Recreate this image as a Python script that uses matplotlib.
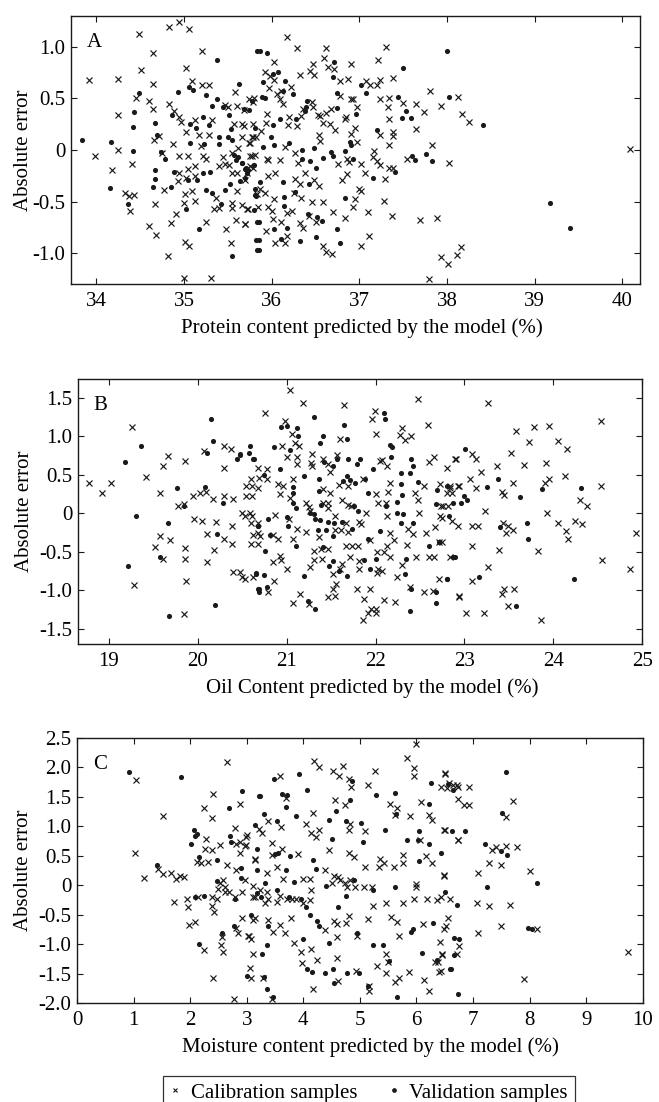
import matplotlib
matplotlib.use('Agg')
import matplotlib.pyplot as plt
from matplotlib.lines import Line2D
import numpy as np

plt.rcParams['font.family'] = ['Liberation Serif', 'DejaVu Serif']
plt.rcParams['font.size'] = 15

# ---- data (x = predicted content, y = absolute error) ----
# Panel A : protein
protein_calibration = [
    (34.48, 1.13), (34.83, 1.19), (34.94, 1.24), (35.06, 1.17), (33.92, 0.68), (34.25, 0.69), (34.65, 0.94),
    (34.51, 0.78), (35.02, 0.80), (35.20, 0.96), (35.09, 0.67), (34.45, 0.50), (34.60, 0.48), (34.64, 0.64),
    (34.64, 0.40), (34.83, 0.45), (34.25, 0.34), (34.25, 0.00), (33.98, -0.06), (34.18, -0.19), (34.89, 0.38),
    (34.94, 0.32), (34.96, 0.27), (34.66, 0.10), (34.71, 0.14), (34.75, -0.03), (34.87, 0.06), (34.94, -0.06),
    (34.41, -0.14), (34.33, -0.42), (34.37, -0.45), (34.43, -0.44), (34.38, -0.59), (34.67, -0.52), (34.77, -0.39),
    (34.85, -0.71), (34.91, -0.62), (34.60, -0.74), (34.68, -0.82), (34.82, -1.03), (35.01, -0.89), (35.06, -0.93),
    (35.01, -0.43), (35.09, -0.40), (35.02, -0.27), (35.04, -0.18), (35.13, -0.16), (35.13, -0.25), (35.17, 0.15),
    (35.05, -0.06), (35.25, -0.09), (35.34, -0.57), (35.25, -0.70), (35.12, -0.49), (35.00, -1.24), (35.31, -1.24),
    (34.94, -0.22), (34.93, -0.30), (35.00, -0.51), (35.44, -0.07), (35.51, -0.15), (35.36, -0.47), (35.40, -0.56),
    (35.55, -0.56), (35.59, -0.68), (35.69, -0.72), (35.72, -0.57), (35.66, -0.53), (35.60, -0.40), (35.69, -0.29),
    (35.72, -0.22), (35.79, -0.17), (35.55, -0.22), (35.60, -0.22), (35.47, -0.14), (35.40, -0.16), (35.55, -0.03),
    (35.62, 0.02), (35.66, 0.13), (35.77, 0.13), (35.74, 0.07), (35.77, -0.06), (35.81, -0.05), (35.57, 0.25),
    (35.66, 0.25), (35.47, 0.44), (35.50, 0.42), (35.60, 0.43), (35.58, 0.56), (35.74, 0.49), (35.32, 0.29),
    (35.28, 0.15), (35.12, 0.29), (35.02, 0.17), (35.19, 0.04), (35.22, -0.06), (35.20, 0.63), (35.28, 0.63),
    (35.48, -0.77), (35.53, -0.90), (35.55, -0.51),
    (36.17, 1.10), (36.29, 0.99), (36.62, 0.99), (37.30, 1.00), (37.21, 0.87), (36.90, 0.83), (36.60, 0.89),
    (36.64, 0.81), (36.71, 0.79), (36.47, 0.83), (36.44, 0.77), (36.48, 0.73), (36.32, 0.73), (36.03, 0.85),
    (35.92, 0.76), (35.98, 0.72), (36.02, 0.68), (36.22, 0.61), (35.97, 0.60), (36.06, 0.54), (36.09, 0.49),
    (36.13, 0.45), (36.11, 0.57), (36.78, 0.67), (36.87, 0.69), (37.07, 0.67), (37.12, 0.63), (37.23, 0.68),
    (37.38, 0.70), (37.20, 0.63), (37.81, 0.57), (38.12, 0.51), (37.93, 0.43), (37.74, 0.37), (37.65, 0.45),
    (37.50, 0.46), (37.34, 0.50), (37.24, 0.49), (37.32, 0.42), (37.34, 0.30), (37.65, 0.20), (37.38, 0.17),
    (37.38, 0.14), (37.24, 0.15), (37.34, 0.05), (37.83, 0.05), (38.02, -0.13), (37.54, -0.09), (37.24, -0.15),
    (37.20, -0.11), (37.16, -0.07), (37.17, -0.01), (37.34, -0.17), (37.38, -0.17), (37.29, -0.28), (37.02, -0.40),
    (37.00, -0.38), (37.06, -0.22), (37.02, -0.14), (36.86, -0.23), (36.80, -0.29), (36.76, -0.14), (36.88, -0.12),
    (36.86, -0.09), (36.93, 0.49), (36.97, 0.42), (36.90, 0.49), (36.78, 0.52), (36.67, 0.40), (36.62, 0.36),
    (36.55, 0.33), (36.59, 0.26), (36.66, 0.25), (36.84, 0.30), (36.85, 0.32), (36.72, 0.19), (36.90, 0.16),
    (36.95, 0.21), (36.97, 0.08), (36.54, 0.15), (36.55, 0.09), (36.47, 0.42), (36.36, 0.40), (36.33, 0.33),
    (36.29, 0.23), (36.18, 0.24), (36.15, 0.03), (36.26, -0.03), (36.30, -0.13), (36.38, -0.22), (36.48, -0.29),
    (36.54, -0.35), (36.32, -0.33), (36.27, -0.28), (36.25, -0.42), (36.33, -0.47), (36.46, -0.50), (36.59, -0.50),
    (36.23, -0.59), (36.17, -0.61), (36.11, -0.70), (36.01, -0.67), (36.00, -0.59), (36.02, -0.48), (35.96, -0.55),
    (35.92, -0.42), (35.87, -0.38), (35.83, -0.43), (35.84, -0.55), (35.73, -0.57), (35.69, -0.72), (35.93, -0.79),
    (36.04, -0.90), (36.15, -0.90), (36.17, -0.83), (36.32, -0.71), (36.36, -0.76), (36.51, -0.70), (36.42, -0.64),
    (36.70, -0.60), (36.83, -0.66), (36.93, -0.55), (36.95, -0.48), (37.10, -0.60), (37.11, -0.83), (37.02, -0.93),
    (36.58, -0.93), (36.62, -0.99), (36.69, -1.01), (37.28, -0.49), (37.37, -0.64), (37.69, -0.68), (37.89, -0.66),
    (37.93, -1.04), (38.01, -1.11), (37.79, -1.25), (35.79, 0.47), (35.80, 0.50), (35.68, 0.39), (35.68, 0.23),
    (35.79, 0.25), (35.79, 0.13), (35.82, 0.13), (35.75, 0.07), (35.75, -0.06), (35.75, -0.16), (35.96, -0.10),
    (35.94, -0.09), (35.96, -0.25), (36.04, -0.22), (36.09, -0.10), (35.95, 0.35), (35.93, 0.26), (35.88, 0.18),
    (36.20, 0.32), (36.46, 0.47), (36.53, 0.34),
    (38.17, 0.35), (38.25, 0.27), (40.09, 0.01), (38.16, -0.94), (38.11, -1.02),
]
protein_validation = [
    (33.83, 0.10), (34.17, 0.08), (34.15, -0.37), (34.36, -0.52), (34.42, 0.22), (34.43, 0.37), (34.48, 0.55),
    (34.42, -0.01), (34.67, 0.26), (34.69, 0.15), (34.67, -0.19), (34.67, -0.28), (34.65, -0.36), (34.74, -0.02),
    (34.78, -0.09), (34.85, -0.36), (34.89, -0.21), (34.86, 0.34), (34.93, 0.56), (35.06, 0.61), (35.10, 0.58),
    (35.07, 0.25), (35.07, 0.07), (35.14, 0.21), (35.22, 0.32), (35.23, 0.06), (35.28, 0.24), (35.05, -0.29),
    (35.15, -0.29), (35.02, -0.57), (35.17, -0.77), (35.25, -0.39), (35.37, 0.87), (35.37, 0.49), (35.25, 0.53),
    (35.32, 0.43), (35.44, 0.42), (35.40, 0.06), (35.40, 0.13), (35.51, 0.34), (35.50, 0.13), (35.53, 0.20),
    (35.55, 0.10), (35.57, -0.05), (35.59, -0.10), (35.62, -0.07), (35.66, -0.13), (35.70, -0.18), (35.80, -0.15),
    (35.63, 0.64), (35.68, 0.40), (35.74, 0.39), (35.77, 0.48), (35.81, 0.21), (35.52, -0.33), (35.55, -1.03),
    (35.80, -0.58), (35.81, -0.44), (35.83, -0.70), (35.82, -0.87), (35.83, -0.97), (35.47, -0.39), (35.42, -0.52),
    (35.32, -0.42), (35.29, -0.21), (35.22, -0.22), (35.83, 0.96), (35.73, -0.19), (35.72, -0.22), (35.69, -0.27),
    (35.64, -0.30),
    (35.87, 0.96), (35.94, 0.94), (36.71, 0.85), (36.70, 0.71), (36.07, 0.76), (36.01, 0.74), (35.90, 0.66),
    (36.15, 0.67), (36.24, 0.54), (36.13, 0.57), (35.89, 0.51), (35.92, 0.50), (36.40, 0.48), (36.39, 0.42),
    (36.38, 0.38), (36.28, 0.30), (36.09, 0.30), (36.01, 0.24), (35.99, 0.13), (36.03, 0.05), (35.90, 0.03),
    (36.74, 0.55), (36.74, 0.41), (36.96, 0.35), (37.02, 0.63), (37.08, 0.55), (37.50, 0.80), (37.44, 0.51),
    (37.53, 0.38), (37.48, 0.31), (37.59, 0.31), (37.20, 0.19), (37.60, -0.06), (37.63, -0.10), (37.76, -0.04),
    (37.83, -0.11), (37.41, -0.21), (37.15, -0.27), (36.93, -0.09), (36.89, 0.08), (36.90, 0.05), (36.83, -0.01),
    (36.67, -0.02), (36.70, -0.06), (36.58, -0.08), (36.48, 0.02), (36.44, -0.11), (36.50, -0.17), (36.43, -0.33),
    (36.34, 0.00), (36.34, -0.09), (36.20, 0.07), (36.13, -0.31), (35.81, -0.38), (35.82, -0.45), (36.26, -0.41),
    (36.14, -0.46), (36.14, -0.54), (36.41, -0.62), (36.52, -0.65), (36.57, -0.69), (35.86, -0.70), (36.03, -0.77),
    (36.17, -0.76), (36.10, -0.86), (35.85, -0.87), (35.86, -0.97), (36.32, -0.88), (36.50, -0.84), (36.74, -0.77),
    (36.78, -0.90), (36.84, -0.47), (35.71, -0.17), (35.66, -0.13), (35.87, -0.31), (38.00, 0.96), (38.02, 0.51),
    (38.41, 0.24), (39.17, -0.51), (39.40, -0.76),
]

# Panel B : oil
oil_calibration = [
    (18.78, 0.40), (18.92, 0.27), (19.02, 0.39), (19.26, 1.12), (19.28, -0.93), (19.42, 0.47), (19.57, 0.27),
    (19.61, 0.62), (19.67, 0.74), (19.57, -0.29), (19.52, -0.44), (19.69, -0.35), (19.61, -0.60), (19.86, 0.68),
    (19.78, 0.09), (19.85, 0.12), (19.86, -0.45), (19.86, -0.59), (19.87, -0.88), (19.85, -1.31), (19.95, 0.23),
    (19.96, -0.07), (20.02, 0.26), (20.05, -0.10), (20.07, 0.81), (20.09, 0.28), (20.10, -0.27), (20.10, -0.63),
    (20.17, 0.18), (20.20, -0.11), (20.18, -0.48), (20.30, 0.87), (20.37, 0.83), (20.29, 0.59), (20.30, 0.23),
    (20.38, -0.17), (20.30, -0.33), (20.38, -0.40), (20.40, 0.18), (20.40, -0.77), (20.48, -0.77), (20.50, -0.83),
    (20.53, -0.86), (20.50, 0.01), (20.53, -0.03), (20.54, 0.22), (20.54, 0.35), (20.60, 0.44), (20.60, -0.13),
    (20.60, -0.40), (20.62, -0.28), (20.68, 0.33), (20.68, 0.59),
    (21.04, 1.60), (21.18, 1.43), (20.76, 1.30), (21.64, 1.41), (22.48, 1.48), (22.59, 1.15), (21.99, 1.33),
    (21.96, 1.23), (20.98, 1.20), (21.06, 1.03), (21.09, 0.92), (21.14, 0.88), (20.95, 0.87), (21.00, 0.73),
    (21.12, 0.73), (21.12, 0.64), (21.29, 0.77), (21.27, 0.66), (21.29, 0.61), (21.41, 0.70), (21.49, 0.54),
    (21.57, 0.76), (21.60, 0.96), (21.47, 0.64), (21.07, 0.44), (20.96, 0.35), (20.90, 0.38), (20.92, 0.25),
    (21.04, 0.20), (20.78, 0.57), (20.78, 0.44), (20.69, 0.46), (20.61, 0.35), (20.61, 0.23), (20.59, 0.01),
    (20.61, -0.04), (20.68, -0.13), (20.68, -0.26), (20.70, -0.30), (20.68, -0.40), (20.87, -0.02), (20.85, -0.28),
    (20.90, -0.33), (20.85, -0.63), (20.92, -0.55), (20.94, -0.61), (21.00, -0.73), (20.86, -0.88), (20.79, -1.02),
    (20.62, -0.83), (21.07, -1.17), (21.15, -1.05), (21.25, -1.18), (21.46, -1.09), (21.52, -0.99), (21.55, -0.92),
    (21.52, -0.79), (21.62, -0.66), (21.60, -0.73), (21.31, -0.61), (21.26, -0.70), (21.40, -0.59), (21.39, -0.47),
    (21.47, -0.46), (21.31, -0.49), (21.36, -0.31), (21.22, -0.25), (21.12, -0.21), (21.07, -0.33), (21.03, -0.08),
    (21.22, 0.13), (21.25, 0.08), (21.26, 0.03), (21.41, 0.14), (21.47, 0.14), (21.46, 0.07), (21.41, 0.31),
    (21.49, 0.27), (21.59, 0.37), (21.62, 0.17), (21.69, 0.11), (21.72, 0.09), (21.69, 0.35), (21.67, -0.12),
    (21.54, -0.03), (21.54, -0.22), (21.61, -0.22), (21.69, -0.24), (21.67, -0.43), (21.74, -0.43), (21.80, -0.43),
    (21.81, -0.11), (21.84, -0.14), (21.89, 0.00), (21.81, -0.62), (21.71, -0.57), (21.81, -0.72), (21.94, -0.35),
    (22.01, 0.25), (22.03, 0.14), (22.05, 0.68), (22.13, 0.61), (22.16, 0.40), (22.14, 0.28), (22.12, 0.14),
    (22.13, -0.04), (22.16, -0.26), (22.21, -0.35), (22.13, -0.43), (22.16, -0.57), (22.09, -0.51), (22.02, -0.50),
    (22.03, -0.72), (22.07, -0.75), (22.02, -0.78), (22.24, -0.83), (22.30, -0.67), (22.35, -0.41), (22.37, -0.20),
    (22.42, -0.27), (22.49, 0.00), (22.44, 0.26), (22.48, 0.17), (22.54, 0.36), (22.27, 1.02), (22.30, 1.11),
    (22.33, 0.95), (22.40, 1.00), (22.07, 0.69), (22.00, 1.03), (21.86, 0.44), (22.45, -0.57), (22.60, -0.57),
    (22.66, -0.57), (22.57, -0.26), (22.71, -0.38), (22.67, -0.18), (22.72, -0.04), (22.74, 0.09), (22.82, 0.09),
    (22.80, 0.26), (22.72, 0.38), (22.60, 0.67), (22.66, 0.73), (22.80, 0.59), (22.89, 0.70), (22.84, 0.33),
    (22.94, 0.35), (22.94, -1.09), (22.71, -0.86), (22.65, -1.01), (22.55, -1.03), (22.39, -0.96), (22.09, -1.13),
    (22.22, -1.15), (21.94, -0.98), (21.87, -1.11), (21.79, -0.99), (21.86, -1.39), (21.92, -1.30), (21.95, -1.25),
    (22.00, -1.25), (22.01, -1.30), (21.54, -1.08),
    (23.26, 1.44), (23.58, 1.07), (23.78, 1.12), (23.95, 1.13), (23.73, 0.93), (24.05, 0.94), (24.15, 0.84),
    (23.52, 0.78), (23.08, 0.77), (23.13, 0.70), (22.90, 0.70), (23.19, 0.54), (23.37, 0.61), (23.67, 0.63),
    (23.92, 0.66), (23.95, 0.45), (24.13, 0.48), (24.54, 1.20), (24.53, 0.35), (23.91, 0.39), (23.55, 0.40),
    (23.42, 0.28), (23.45, 0.24), (23.06, 0.44), (23.13, 0.33), (22.93, 0.35), (22.84, 0.35), (22.86, 0.26),
    (22.76, 0.10), (22.75, -0.06), (22.86, -0.10), (22.93, -0.16), (23.09, -0.17), (23.15, -0.17), (23.23, 0.03),
    (23.43, -0.13), (23.47, -0.26), (23.49, -0.17), (23.55, -0.22), (23.39, -0.48), (23.08, -0.43), (22.75, -0.38),
    (22.84, -0.57), (23.26, -0.70), (23.09, -0.88), (22.94, -1.08), (23.02, -1.30), (23.22, -1.30), (23.42, -1.05),
    (23.45, -0.98), (23.56, -0.98), (23.49, -1.20), (23.83, -0.49), (23.86, -1.39), (24.05, -0.12), (24.14, -0.23),
    (24.16, -0.34), (24.24, -0.10), (24.32, -0.14), (23.93, 0.01), (24.30, 0.17), (24.38, 0.10), (24.55, -0.61),
    (24.93, -0.26), (24.86, -0.72),
]
oil_validation = [
    (19.18, 0.67), (19.36, 0.88), (19.31, -0.04), (19.22, -0.68), (19.68, -1.33), (19.77, 0.33), (19.85, 0.10),
    (19.67, -0.12), (19.58, -0.57), (20.08, 0.34), (20.15, 1.23), (20.17, 0.94), (20.10, 0.78), (20.28, 0.13),
    (20.22, -0.27), (20.19, -1.19), (20.44, 0.70), (20.47, 0.76), (20.58, 0.79), (20.59, 0.88), (20.62, 0.70),
    (20.65, -0.78), (20.68, -0.17), (20.68, -0.98), (20.69, -1.02),
    (20.63, 0.70), (20.48, 0.77), (20.86, 0.86), (20.94, 1.12), (21.00, 1.13), (21.12, 1.11), (21.13, 1.01),
    (21.04, 0.82), (21.31, 1.25), (21.41, 1.00), (21.37, 0.91), (21.64, 1.15), (21.68, 0.97), (22.09, 1.31),
    (22.11, 1.23), (22.16, 0.89), (22.19, 0.86), (22.17, 0.73), (22.29, 0.53), (22.29, 0.38), (22.30, 0.24),
    (22.39, 0.52), (22.42, 0.61), (22.40, 0.71), (22.48, 0.41), (22.69, 0.30), (22.68, 0.12), (22.87, 0.14),
    (22.83, -0.03), (22.40, -0.99), (22.33, -0.79), (22.34, -0.60), (22.39, -1.27), (22.68, -1.17), (22.68, -1.03),
    (22.60, -0.43), (22.71, -0.37), (22.80, -0.86), (22.87, -0.57), (22.29, -0.13), (22.31, -0.01), (22.42, -0.12),
    (22.24, 0.01), (22.24, 0.15), (22.12, 0.09), (22.05, -0.23), (22.01, -0.60), (21.94, -0.72), (21.87, -0.61),
    (21.91, -0.34), (21.92, 0.26), (21.88, 0.44), (21.97, 0.57), (21.82, 0.70), (21.79, 0.64), (21.77, 0.39),
    (21.71, 0.43), (21.68, 0.48), (21.63, 0.42), (21.69, 0.70), (21.57, 0.70), (21.52, 0.61), (21.42, 0.67),
    (21.36, 0.44), (21.19, 0.49), (21.07, 0.34), (21.07, 0.26), (21.07, 0.14), (20.92, 0.57), (20.75, 0.50),
    (20.79, -0.07), (20.68, -0.16), (20.81, -0.28), (20.76, -0.49), (20.75, -0.80), (20.69, -0.98), (20.78, -0.96),
    (20.66, -0.79), (21.00, -0.05), (21.02, -0.17), (21.10, -0.42), (21.10, 0.07), (21.26, 0.00), (21.31, -0.01),
    (21.32, -0.08), (21.35, -0.22), (21.37, -0.09), (21.39, 0.11), (21.46, -0.11), (21.44, -0.22), (21.41, -0.44),
    (21.52, -0.30), (21.53, -0.12), (21.62, -0.11), (21.73, -0.21), (21.76, 0.10), (21.80, 0.03), (21.48, -0.69),
    (21.59, -0.75), (21.68, -0.82), (21.52, -0.62), (21.19, -0.81), (21.24, -1.14), (21.32, -1.24), (21.36, 0.29),
    (23.01, 0.83), (22.80, 0.35), (22.96, 0.14), (22.99, 0.22), (23.03, 0.17), (23.25, 0.34), (23.38, 0.44),
    (23.63, 0.21), (23.87, 0.31), (24.31, 0.33), (23.40, -0.18), (23.70, -0.13), (23.72, -0.34), (22.89, -0.57),
    (22.80, -0.86), (23.16, -0.83), (23.58, -1.21), (24.23, -0.85),
]

# Panel C : moisture
moisture_calibration = [
    (1.05, 1.79), (1.03, 0.55), (1.52, 1.17), (1.18, 0.12), (1.52, 0.19), (1.43, 0.28), (1.66, 0.21),
    (1.75, 0.11), (1.82, 0.15), (1.90, 0.14), (1.72, -0.28), (1.95, -0.23), (1.97, -0.37), (1.98, -0.68),
    (2.08, -0.62), (2.14, -0.20), (2.13, 0.39), (2.19, 0.37), (2.24, 1.31), (2.28, 0.78), (2.27, 0.62),
    (2.31, 0.39), (2.39, 0.59), (2.41, 1.55), (2.39, 1.14), (2.52, 0.68), (2.25, -1.10), (2.41, -1.58),
    (2.39, -0.20), (2.38, -0.35), (2.42, -0.45), (2.48, -0.23), (2.50, -0.06), (2.53, 0.03), (2.58, 0.08),
    (2.61, -0.11), (2.62, -0.04), (2.66, 0.34), (2.68, -0.12), (2.56, -0.88), (2.55, -1.01), (2.58, -1.13),
    (2.66, 2.08), (2.79, 0.96), (2.81, 0.70), (2.88, 1.38), (2.89, 0.73), (2.89, 0.54), (2.81, 0.26),
    (2.91, -0.11), (3.00, 0.85), (2.99, 0.68), (2.79, -0.20), (2.78, -1.93), (2.81, -0.72), (2.84, -0.81),
    (2.91, -0.56), (3.03, -0.87), (3.07, -0.92), (3.11, -1.17), (3.05, -1.41), (3.07, -1.58), (3.14, 0.43),
    (3.22, 0.95), (3.12, -0.02), (3.15, -0.20), (2.97, 0.08),
    (4.19, 2.10), (4.27, 2.00), (4.53, 1.93), (4.64, 1.85), (4.70, 2.02), (4.80, 1.80), (4.85, 1.67),
    (3.59, 1.85), (3.70, 1.47), (4.17, 1.23), (4.04, 1.03), (4.13, 0.88), (4.27, 0.93), (4.23, 0.81),
    (3.60, 0.99), (3.37, 1.08), (3.27, 0.88), (3.45, 0.72), (2.99, 0.82), (2.97, 0.66), (3.15, 0.45),
    (3.45, 0.51), (3.63, 0.62), (3.53, 0.31), (3.35, 0.21), (3.64, 0.10), (3.90, 0.52), (4.46, 0.59),
    (4.80, 0.54), (4.89, 0.48), (4.56, 1.45), (4.74, 1.35), (4.82, 1.04), (4.80, 0.93), (5.09, 0.92),
    (5.14, 1.70), (5.27, 1.93), (5.54, 1.37), (5.63, 1.19), (5.65, 1.31), (5.88, 1.17), (5.83, 2.15),
    (5.96, 1.98), (5.96, 1.85), (6.00, 2.39), (6.08, 1.41), (6.22, 1.19), (6.27, 1.11), (6.07, 0.76),
    (6.49, 0.93), (6.54, 1.65), (6.44, 1.67), (6.57, 1.73), (6.72, 1.69), (6.51, 1.89), (6.73, 0.76),
    (5.77, 0.37), (6.17, 0.49), (6.27, 0.38), (6.48, 0.17), (6.00, 0.02), (6.00, -0.03), (5.76, 0.51),
    (5.42, 0.37), (5.33, 0.30), (5.60, 0.30), (5.09, 0.30), (5.35, 0.45), (5.21, -0.04), (5.08, -0.04),
    (4.92, -0.03), (4.83, 0.08), (4.78, -0.04), (4.73, 0.03), (4.65, 0.08), (4.62, 0.14), (4.55, 0.16),
    (4.50, 0.03), (4.39, 0.25), (4.11, 0.10), (4.00, 0.11), (4.13, -0.08), (4.12, -0.25), (3.99, -0.31),
    (3.88, -0.23), (3.80, -0.24), (3.72, -0.24), (3.59, -0.19), (3.53, -0.28), (3.37, -0.24), (3.32, -0.31),
    (3.35, -0.11), (3.24, -0.08), (3.12, -0.20), (3.15, -0.56), (3.11, -0.60), (3.37, -0.59), (3.47, -0.79),
    (3.58, -0.68), (3.68, -0.82), (3.78, -0.56), (3.83, -0.99), (3.96, -1.14), (3.97, -1.32), (4.13, -1.08),
    (4.24, -1.27), (4.39, -0.76), (4.55, -0.61), (4.60, -0.66), (4.76, -0.64), (4.80, -0.52), (4.59, -0.88),
    (4.95, -0.86), (4.60, -1.24), (4.62, -1.63), (4.94, -1.46), (4.18, -1.77), (3.44, -1.94), (3.28, -1.58),
    (5.15, -0.58), (5.24, -0.35), (5.46, -0.30), (5.55, -0.54), (5.65, -0.62), (5.70, -0.86), (5.77, -0.30),
    (5.95, -0.23), (6.12, -0.66), (6.19, -0.24), (6.36, -0.26), (6.42, -0.97), (6.48, -0.75), (6.39, -1.30),
    (6.45, -1.17), (6.32, -1.31), (6.40, -1.48), (6.13, -1.61), (5.70, -1.58), (5.86, -1.48), (6.22, -1.80),
    (5.47, -1.17), (5.50, -1.30), (5.31, -1.37), (5.47, -1.49), (5.63, -1.65), (5.17, -1.72), (5.17, -1.79),
    (6.72, -1.17), (6.60, -0.23), (3.04, -0.86),
    (6.50, 1.90), (6.65, 1.70), (6.74, 1.67), (6.93, 1.67), (6.74, 1.46), (6.84, 1.36), (6.93, 1.36),
    (6.50, 0.93), (6.74, 0.76), (7.71, 1.43), (7.59, 1.15), (7.41, 0.65), (7.34, 0.59), (7.58, 0.66),
    (7.78, 0.65), (8.01, 0.24), (7.28, 0.38), (7.09, 0.21), (7.50, 0.34), (6.48, 0.16), (6.44, -0.20),
    (6.56, -0.56), (6.52, -0.70), (6.45, -1.18), (6.76, -1.04), (6.44, -1.46), (7.07, -0.31), (7.28, -0.35),
    (7.50, -0.69), (7.08, -0.81), (7.65, -0.34), (7.91, -1.59), (8.14, -0.75), (9.74, -1.14),
]
moisture_validation = [
    (0.92, 1.92), (1.83, 1.84), (1.41, 0.34), (2.06, 0.94), (2.09, 0.83), (2.12, 0.86), (2.01, 0.69),
    (2.15, 0.48), (2.24, -0.18), (2.09, -0.21), (2.16, -1.00), (2.47, 0.42), (2.47, 0.07), (2.57, -0.82),
    (2.68, 1.30), (2.71, 0.83), (2.72, 0.73), (2.79, -0.24), (2.78, -0.70), (2.90, 0.29), (2.90, 0.12),
    (2.92, 1.59), (3.00, -1.55), (3.15, 1.02), (3.19, 0.62), (3.19, -0.14), (3.21, 1.51),
    (3.24, 1.51), (3.49, 1.80), (3.93, 1.89), (4.06, 1.61), (3.71, 1.53), (3.31, 1.21), (3.62, 1.55),
    (3.70, 1.32), (3.54, 1.09), (3.87, 1.17), (4.46, 1.10), (4.58, 1.26), (4.75, 1.09), (4.83, 1.44),
    (4.86, 1.77), (5.02, 1.06), (5.28, 1.53), (5.63, 1.57), (5.64, 1.20), (6.04, 0.91), (6.23, 1.38),
    (6.23, 0.69), (6.43, 0.54), (6.65, 1.62), (6.26, 1.73), (6.55, 1.71), (5.83, 0.76), (6.03, 0.76),
    (6.04, 0.41), (5.45, 0.93), (5.06, 0.73), (4.50, 0.79), (4.18, 0.42), (3.77, 0.49), (3.50, 0.52),
    (3.55, 0.55), (3.19, 0.26), (3.25, -0.20), (3.32, 0.04), (3.54, -0.08), (3.75, -0.20), (3.96, -0.23),
    (4.05, -0.37), (4.12, -0.51), (4.24, -0.61), (4.27, -0.69), (4.45, -0.99), (3.99, -0.92), (3.37, -0.69),
    (3.35, -1.01), (3.27, -1.17), (3.31, -1.56), (3.35, -1.76), (3.47, -1.89), (4.06, -1.43), (4.15, -1.48),
    (4.39, -1.49), (4.53, -1.42), (4.55, -1.66), (4.77, -1.49), (4.98, -1.49), (5.15, -1.71), (5.24, -1.01),
    (5.41, -1.01), (5.51, -1.28), (5.65, -1.89), (6.10, -1.15), (6.36, -1.27), (6.60, -1.43), (4.95, -0.81),
    (5.24, -0.08), (5.63, -0.03), (5.94, -0.75), (5.90, -0.79), (6.51, -0.12), (6.75, -0.92), (6.30, -0.65),
    (4.90, 0.08), (4.62, -0.38), (4.40, -0.02), (4.76, -0.18), (4.23, 0.28), (3.83, 0.06), (3.70, 0.26),
    (3.07, -0.51),
    (7.59, 1.91), (7.52, 1.22), (6.63, 0.92), (6.85, 0.92), (7.22, 0.69), (7.50, 0.57), (7.60, 0.51),
    (8.14, 0.03), (7.24, -0.03), (6.71, -0.34), (7.97, -0.72), (8.04, -0.75), (6.66, -0.90), (6.62, -1.43),
    (6.74, -1.85), (6.66, -1.18),
]

panel_letters = ['A', 'B', 'C']
x_labels = ['Protein content predicted by the model (%)',
            'Oil Content predicted by the model (%)',
            'Moisture content predicted by the model (%)']
x_limits = [(33.71, 40.2), (18.65, 25.0), (0, 10)]
y_limits = [(-1.3, 1.3), (-1.7, 1.75), (-2.0, 2.5)]
x_ticks = [list(range(34, 41)), list(range(19, 26)), list(range(0, 11))]
y_ticks = [[-1.0, -0.5, 0, 0.5, 1.0],
           [-1.5, -1.0, -0.5, 0, 0.5, 1.0, 1.5],
           [-2.0, -1.5, -1.0, -0.5, 0, 0.5, 1.0, 1.5, 2.0, 2.5]]
legend_labels = ['Calibration samples', 'Validation samples']

calibration_sets = [protein_calibration, oil_calibration, moisture_calibration]
validation_sets = [protein_validation, oil_validation, moisture_validation]

# ---- layout (figure fractions) ----
W, H = 659, 1102
boxes = [(71, 640, 16, 284), (77.7, 642.3, 378.7, 644), (77, 642.7, 737.7, 1003)]
xlabel_x = [0.512, 0.521, 0.518]

ink = '#1a1a1a'
fig = plt.figure(figsize=(W / 100, H / 100), dpi=100)

for i in range(3):
    l, r, t, b = boxes[i]
    ax = fig.add_axes([l / W, 1 - b / H, (r - l) / W, (b - t) / H])
    cal = np.array(calibration_sets[i])
    val = np.array(validation_sets[i])
    ax.plot(cal[:, 0], cal[:, 1], linestyle='none', marker='x', ms=3.7, mew=0.85, color=ink)
    ax.plot(val[:, 0], val[:, 1], linestyle='none', marker='o', ms=3.7, mew=0, color=ink)

    ax.set_xlim(*x_limits[i])
    ax.set_ylim(*y_limits[i])
    ax.set_xticks(x_ticks[i])
    ax.set_yticks(y_ticks[i])
    ax.set_yticklabels(['0' if v == 0 else f'{v:.1f}' for v in y_ticks[i]])
    ax.tick_params(direction='in', top=True, right=True, length=4, width=0.8,
                   colors=ink, labelcolor='black')
    ax.tick_params(axis='x', pad=6)
    ax.tick_params(axis='y', pad=4)
    for s in ax.spines.values():
        s.set_linewidth(1.0)
        s.set_color(ink)

    ax.set_xlabel(x_labels[i])
    ax.xaxis.set_label_coords(xlabel_x[i], -44 / (b - t))
    ax.xaxis.label.set_va('center')
    ax.set_ylabel('Absolute error')
    ax.yaxis.set_label_coords(-(l - 24) / (r - l), 0.5)
    ax.yaxis.label.set_va('center')

    ax.text(0.028, 0.9, panel_letters[i], transform=ax.transAxes, ha='left', va='center')

handles = [Line2D([], [], linestyle='none', marker='x', ms=3.3, mew=0.8, color=ink),
           Line2D([], [], linestyle='none', marker='o', ms=3.4, mew=0, color=ink)]
leg = fig.legend(handles, legend_labels, loc='upper left',
                 bbox_to_anchor=(162.7 / W, 1 - 1075.7 / H), ncol=2, frameon=True,
                 fancybox=False, edgecolor='black', handlelength=0.5, handletextpad=0.5,
                 columnspacing=1.5, borderpad=0.35, borderaxespad=0, fontsize=15)
leg.get_frame().set_linewidth(0.9)

fig.savefig('out.png', dpi=100)
